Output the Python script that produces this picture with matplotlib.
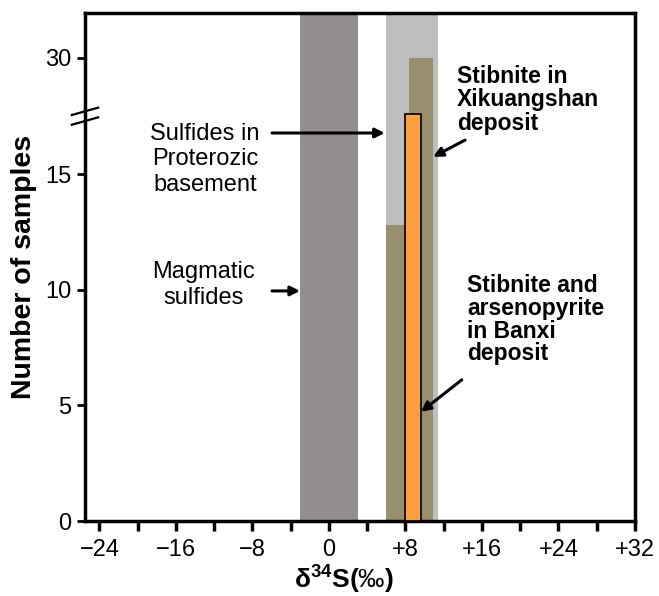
import numpy as np
import matplotlib
matplotlib.use("Agg")
import matplotlib.pyplot as plt
import matplotlib.transforms as mtransforms

plt.rcParams['font.family'] = ['Liberation Sans', 'DejaVu Sans']
plt.rcParams['mathtext.fontset'] = 'custom'
plt.rcParams['mathtext.rm'] = 'Liberation Sans'
plt.rcParams['mathtext.bf'] = 'Liberation Sans:bold'
plt.rcParams['mathtext.it'] = 'Liberation Sans:italic'

# sulfur isotope ranges (permil)
magmatic_range = (-3.0, 3.0)
basement_range = (6.0, 11.4)

# Xikuangshan stibnite histogram
xks_left = [6.0, 8.4]
xks_width = [2.4, 2.5]
xks_count = [12.8, 30]

# Banxi stibnite + arsenopyrite
banxi_left = [8.0]
banxi_width = [1.6]
banxi_count = [18]

xticks = np.arange(-24, 33, 4)
xlabels = ['\u221224', '', '\u221216', '', '\u22128', '', '0', '', '+8', '',
           '+16', '', '+24', '', '+32']
yticks = [0, 5, 10, 15, 30]

# broken y axis: values above BRK are compressed
BRK = 17.5
SQZ = 0.2016


def fwd(y):
    y = np.asarray(y, dtype=float)
    return np.where(y <= BRK, y, BRK + (y - BRK) * SQZ)


def inv(v):
    v = np.asarray(v, dtype=float)
    return np.where(v <= BRK, v, BRK + (v - BRK) / SQZ)


fig = plt.figure(figsize=(6.59, 5.96), dpi=100)
ax = fig.add_axes([0.129, 0.1258, 0.8346, 0.8522])
ax.set_yscale('function', functions=(fwd, inv))

ax.axvspan(*magmatic_range, color='#938f8e', lw=0, zorder=1)
ax.axvspan(*basement_range, color='#bebebe', lw=0, zorder=1)
ax.bar(xks_left, xks_count, width=xks_width, align='edge',
       color='#978f6e', lw=0, zorder=2)
ax.bar(banxi_left, banxi_count, width=banxi_width, align='edge',
       color='#fb9f42', edgecolor='black', lw=1.2, zorder=3)

ax.set_xlim(-25.5, 32)
ax.set_ylim(0, 39.6)
ax.set_xticks(xticks)
ax.set_xticklabels(xlabels)
ax.set_yticks(yticks)
ax.set_yticklabels([str(v) for v in yticks])
ax.tick_params(axis='x', direction='out', length=7, width=2.5,
               labelsize=17, pad=6)
ax.tick_params(axis='y', direction='out', length=6, width=2,
               labelsize=17, pad=4)
for sp in ax.spines.values():
    sp.set_linewidth(2.5)

# break marks on the left spine
trans = mtransforms.blended_transform_factory(ax.transAxes, ax.transData)
for off in (-0.21, 0.21):
    yb = float(fwd(BRK)) + off
    ax.plot([-0.024, 0.024], [inv(yb - 0.16), inv(yb + 0.16)], color='black',
            lw=1.6, transform=trans, clip_on=False, zorder=5)

ax.set_ylabel('Number of samples', fontsize=20.5, fontweight='bold', labelpad=6)
ax.set_xlabel(r'$\mathbf{\delta^{34}S(}$' + '\u2030' + r'$\mathbf{)}$',
              fontsize=19, labelpad=2)
ax.xaxis.set_label_coords(0.47, -0.085)

arrow = dict(arrowstyle='-|>', color='black', lw=2.2, mutation_scale=14,
             shrinkA=0, shrinkB=0)

ax.text(0.218, 0.712, 'Sulfides in\nProterozic\nbasement', transform=ax.transAxes,
        ha='center', va='center', fontsize=17, linespacing=1.2)
ax.annotate('', xy=(0.545, 0.764), xytext=(0.340, 0.764),
            xycoords='axes fraction', arrowprops=arrow)

ax.text(0.216, 0.465, 'Magmatic\nsulfides', transform=ax.transAxes,
        ha='center', va='center', fontsize=17, linespacing=1.2)
ax.annotate('', xy=(0.391, 0.453), xytext=(0.340, 0.453),
            xycoords='axes fraction', arrowprops=arrow)

ax.text(0.676, 0.829, 'Stibnite in\nXikuangshan\ndeposit', transform=ax.transAxes,
        ha='left', va='center', fontsize=16.5, fontweight='bold', linespacing=1.05)
ax.annotate('', xy=(0.633, 0.717), xytext=(0.691, 0.750),
            xycoords='axes fraction', arrowprops=arrow)

ax.text(0.695, 0.396, 'Stibnite and\narsenopyrite\nin Banxi\ndeposit',
        transform=ax.transAxes, ha='left', va='center', fontsize=16.5,
        fontweight='bold', linespacing=0.98)
ax.annotate('', xy=(0.611, 0.215), xytext=(0.685, 0.278),
            xycoords='axes fraction', arrowprops=arrow)

fig.savefig('out.png', dpi=100)
